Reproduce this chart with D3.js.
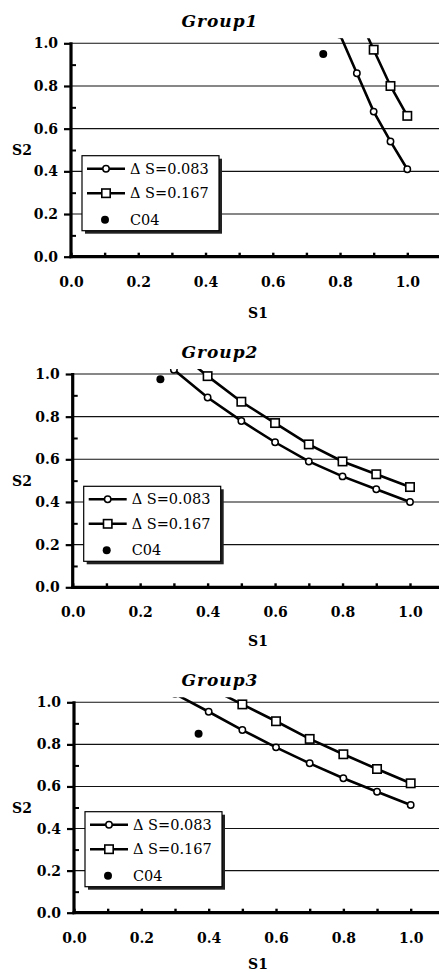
<!DOCTYPE html>
<html>
<head>
<meta charset="utf-8">
<script src="https://cdn.jsdelivr.net/npm/d3@7"></script>
<style>
  body { margin: 0; background: #fff; }
  svg { display: block; }
</style>
</head>
<body>
<svg id="chart" width="439" height="972"></svg>
<script>
// ---- data ----
const groupNames = ["Group1", "Group2", "Group3"];
const seriesLabels = ["\u0394 S=0.083", "\u0394 S=0.167", "C04"];
const xTickValues = [0, 0.2, 0.4, 0.6, 0.8, 1.0];
const yTickValues = [0, 0.2, 0.4, 0.6, 0.8, 1.0];
const minorTickValues = [0.1, 0.3, 0.5, 0.7, 0.9];
const xAllTicks = [0, 0.1, 0.2, 0.3, 0.4, 0.5, 0.6, 0.7, 0.8, 0.9, 1.0];

// points above 1.0 are cut off by the plot area, only the line shows
const g1S083 = [[0.8, 1.04], [0.85, 0.86], [0.9, 0.68], [0.95, 0.54], [1.0, 0.41]];
const g1S167 = [[0.85, 1.14], [0.9, 0.97], [0.95, 0.80], [1.0, 0.66]];
const g1C04 = [[0.75, 0.95]];

const g2S083 = [[0.2, 1.16], [0.3, 1.02], [0.4, 0.89], [0.5, 0.78], [0.6, 0.68], [0.7, 0.59], [0.8, 0.52], [0.9, 0.46], [1.0, 0.40]];
const g2S167 = [[0.3, 1.12], [0.4, 0.99], [0.5, 0.87], [0.6, 0.77], [0.7, 0.67], [0.8, 0.59], [0.9, 0.53], [1.0, 0.47]];
const g2C04 = [[0.26, 0.975]];

const g3S083 = [[0.3, 1.04], [0.4, 0.955], [0.5, 0.868], [0.6, 0.786], [0.7, 0.71], [0.8, 0.639], [0.9, 0.575], [1.0, 0.512]];
const g3S167 = [[0.4, 1.07], [0.5, 0.99], [0.6, 0.91], [0.7, 0.826], [0.8, 0.753], [0.9, 0.683], [1.0, 0.615]];
const g3C04 = [[0.37, 0.85]];

const groupSeries = [
  [g1S083, g1S167, g1C04],
  [g2S083, g2S167, g2C04],
  [g3S083, g3S167, g3C04]
];

// pixel frame of each panel: x of 0.0, x of 1.0, y of 1.0, y of 0.0, S1 label offset
const panels = [
  { x0: 71, x1: 407.3, yTop: 43.3, yBot: 256.7, s1: 61 },
  { x0: 72.7, x1: 410, yTop: 374, yBot: 587.3, s1: 58.5 },
  { x0: 74, x1: 410.7, yTop: 702.3, yBot: 912.7, s1: 56 }
];

const W = 439;
const serifBold = "'DejaVu Serif', serif";
const svg = d3.select("#chart");

panels.forEach((p, gi) => {
  const [sA, sB, sC] = groupSeries[gi];
  const x = d3.scaleLinear().domain([0, 1]).range([p.x0, p.x1]);
  const y = d3.scaleLinear().domain([0, 1]).range([p.yBot, p.yTop]);
  const g = svg.append("g");

  // clip: plot area runs a little above the 1.0 line and to the page edge
  const clipId = "clip" + gi;
  svg.append("clipPath").attr("id", clipId)
    .append("rect")
    .attr("x", p.x0).attr("y", y(1) - 5)
    .attr("width", W - p.x0).attr("height", p.yBot - y(1) + 5);

  // grid lines
  g.append("g")
    .selectAll("line")
    .data(yTickValues.filter(d => d > 0))
    .join("line")
    .attr("x1", p.x0).attr("x2", W)
    .attr("y1", d => y(d)).attr("y2", d => y(d))
    .attr("stroke", "#111").attr("stroke-width", 1.1);

  // y axis: major ticks outside, minor ticks inside
  g.append("g")
    .attr("transform", `translate(${p.x0},0)`)
    .call(d3.axisLeft(y).tickValues(yTickValues).tickSize(7).tickPadding(6).tickFormat(d3.format(".1f")))
    .call(a => a.select(".domain").remove())
    .call(a => a.selectAll(".tick line").attr("stroke", "#000").attr("stroke-width", 2.2))
    .call(a => a.selectAll(".tick text")
      .attr("fill", "#000")
      .style("font-family", serifBold)
      .style("font-weight", "bold")
      .style("font-size", "14px"));

  g.append("g")
    .attr("transform", `translate(${p.x0},0)`)
    .call(d3.axisRight(y).tickValues(minorTickValues).tickSize(5).tickFormat(""))
    .call(a => a.select(".domain").remove())
    .call(a => a.selectAll(".tick line").attr("stroke", "#000").attr("stroke-width", 2));

  // x axis: small ticks inside at every 0.1, labels every 0.2
  g.append("g")
    .attr("transform", `translate(0,${p.yBot})`)
    .call(d3.axisTop(x).tickValues(xAllTicks).tickSize(4).tickFormat(""))
    .call(a => a.select(".domain").remove())
    .call(a => a.selectAll(".tick line").attr("stroke", "#000").attr("stroke-width", 2.4));

  g.append("g")
    .attr("transform", `translate(0,${p.yBot})`)
    .call(d3.axisBottom(x).tickValues(xTickValues).tickSize(0).tickPadding(20).tickFormat(d3.format(".1f")))
    .call(a => a.select(".domain").remove())
    .call(a => a.selectAll(".tick text")
      .attr("fill", "#000")
      .style("font-family", serifBold)
      .style("font-weight", "bold")
      .style("font-size", "14px"));

  // axis lines
  g.append("line")
    .attr("x1", p.x0).attr("x2", p.x0)
    .attr("y1", y(1) - 1).attr("y2", p.yBot + 1.5)
    .attr("stroke", "#000").attr("stroke-width", 3.2);
  g.append("line")
    .attr("x1", p.x0 - 1.5).attr("x2", W)
    .attr("y1", p.yBot).attr("y2", p.yBot)
    .attr("stroke", "#000").attr("stroke-width", 3.2);

  // series
  const plot = g.append("g").attr("clip-path", `url(#${clipId})`);
  const line = d3.line().x(d => x(d[0])).y(d => y(d[1]));

  [sA, sB].forEach(s => {
    plot.append("path")
      .datum(s)
      .attr("d", line)
      .attr("fill", "none")
      .attr("stroke", "#000")
      .attr("stroke-width", 2.6);
  });

  plot.selectAll(".mk-circle")
    .data(sA)
    .join("circle")
    .attr("class", "mk-circle")
    .attr("cx", d => x(d[0])).attr("cy", d => y(d[1]))
    .attr("r", 3.2)
    .attr("fill", "#fff").attr("stroke", "#000").attr("stroke-width", 1.5);

  plot.selectAll(".mk-square")
    .data(sB)
    .join("rect")
    .attr("class", "mk-square")
    .attr("x", d => x(d[0]) - 4.2).attr("y", d => y(d[1]) - 4.2)
    .attr("width", 8.4).attr("height", 8.4)
    .attr("fill", "#fff").attr("stroke", "#000").attr("stroke-width", 1.6);

  plot.selectAll(".mk-dot")
    .data(sC)
    .join("circle")
    .attr("class", "mk-dot")
    .attr("cx", d => x(d[0])).attr("cy", d => y(d[1]))
    .attr("r", 4)
    .attr("fill", "#000");

  // titles and axis names
  g.append("text")
    .attr("x", 220).attr("y", p.yTop - 16)
    .attr("text-anchor", "middle")
    .style("font-family", serifBold)
    .style("font-weight", "bold")
    .style("font-style", "italic")
    .style("font-size", "17px")
    .style("letter-spacing", "1px")
    .text(groupNames[gi]);

  g.append("text")
    .attr("x", 258).attr("y", p.yBot + p.s1)
    .attr("text-anchor", "middle")
    .style("font-family", serifBold)
    .style("font-weight", "bold")
    .style("font-size", "14px")
    .text("S1");

  g.append("text")
    .attr("x", 22).attr("y", (p.yTop + p.yBot) / 2 + 5)
    .attr("text-anchor", "middle")
    .style("font-family", serifBold)
    .style("font-weight", "bold")
    .style("font-size", "14px")
    .text("S2");

  // legend
  const lx = p.x0 + 11, ly = p.yBot - 101, lw = 137, lh = 75;
  const leg = g.append("g");
  leg.append("rect")
    .attr("x", lx + 3).attr("y", ly + 3).attr("width", lw).attr("height", lh)
    .attr("fill", "#222");
  leg.append("rect")
    .attr("x", lx).attr("y", ly).attr("width", lw).attr("height", lh)
    .attr("fill", "#fff").attr("stroke", "#000").attr("stroke-width", 1.2);

  const rowY = [13, 37.5, 64];
  seriesLabels.forEach((label, i) => {
    const cy = ly + rowY[i];
    if (i < 2) {
      leg.append("line")
        .attr("x1", lx + 5).attr("x2", lx + 43)
        .attr("y1", cy).attr("y2", cy)
        .attr("stroke", "#000").attr("stroke-width", 2.6);
    }
    if (i === 0) {
      leg.append("circle").attr("cx", lx + 24).attr("cy", cy).attr("r", 3.2)
        .attr("fill", "#fff").attr("stroke", "#000").attr("stroke-width", 1.5);
    } else if (i === 1) {
      leg.append("rect").attr("x", lx + 24 - 4.2).attr("y", cy - 4.2)
        .attr("width", 8.4).attr("height", 8.4)
        .attr("fill", "#fff").attr("stroke", "#000").attr("stroke-width", 1.6);
    } else {
      leg.append("circle").attr("cx", lx + 23).attr("cy", cy).attr("r", 4).attr("fill", "#000");
    }
    leg.append("text")
      .attr("x", lx + 48).attr("y", cy + 5)
      .style("font-family", "'DejaVu Serif', serif")
      .style("font-size", "14.5px")
      .text(label);
  });
});
</script>
</body>
</html>
